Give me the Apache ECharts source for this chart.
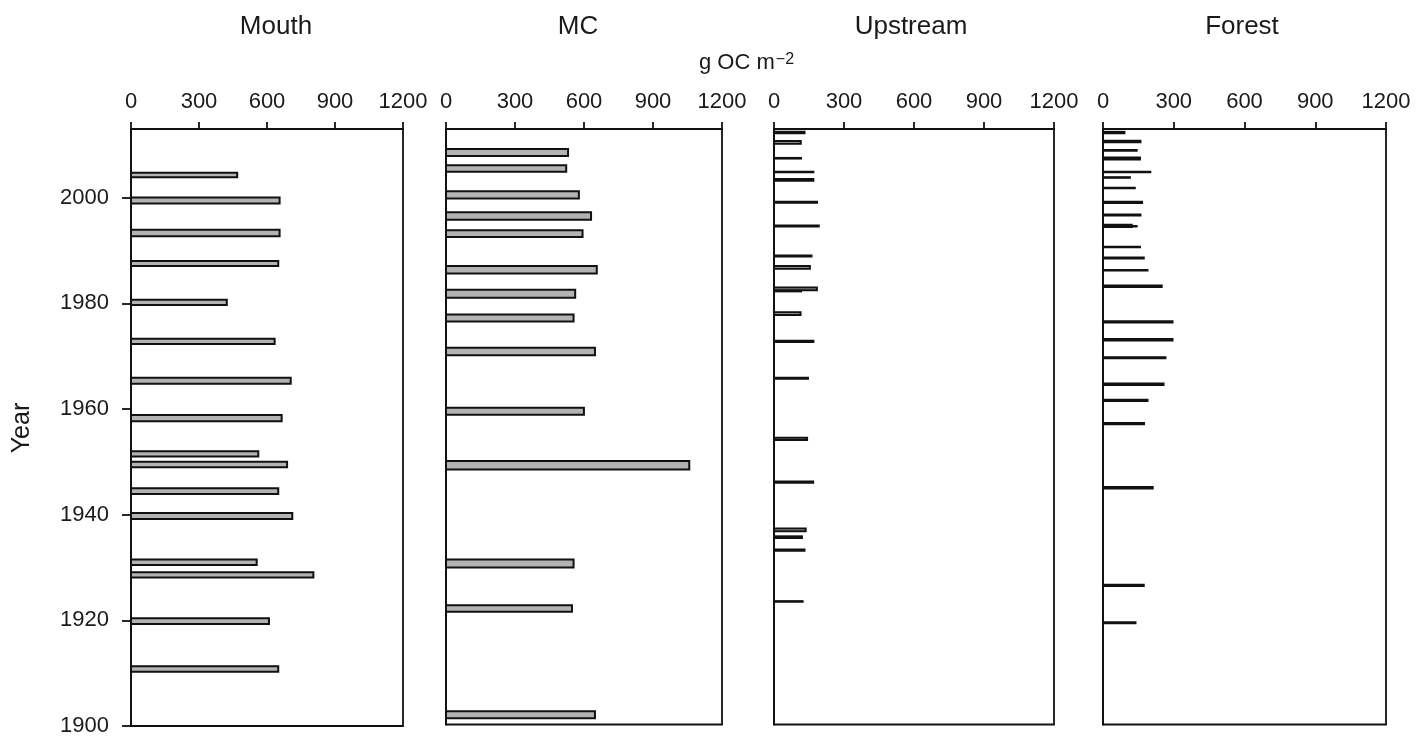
<!DOCTYPE html>
<html>
<head>
<meta charset="utf-8">
<script src="https://cdn.jsdelivr.net/npm/echarts@6/dist/echarts.min.js"></script>
<style>
  html, body { margin: 0; padding: 0; background: #fff; }
  #chart { width: 1426px; height: 737px; }
</style>
</head>
<body>
<div id="chart"></div>
<script>
// Site names, axis ticks and per-interval organic carbon stocks (g OC m^-2).
const panelNames = ['Mouth', 'MC', 'Upstream', 'Forest'];
const ocTicks = [0, 300, 600, 900, 1200];
const yearTicks = [1900, 1920, 1940, 1960, 1980, 2000];

// Each sediment interval: year at its top, year at its base, and its stock.
const mouthTop  = [2004.9, 2000.2, 1994.1, 1988.2, 1980.85, 1973.5, 1966.1, 1959.05, 1952.2, 1950.2, 1945.2, 1940.5, 1931.7, 1929.3, 1920.6, 1911.5];
const mouthBase = [2003.7, 1998.7, 1992.5, 1986.9, 1979.5, 1972.1, 1964.6, 1957.5, 1950.8, 1948.8, 1943.7, 1939.0, 1930.3, 1927.9, 1919.1, 1910.1];
const mouthOC   = [473, 660, 660, 654, 427, 638, 709, 669, 566, 693, 654, 716, 559, 809, 613, 654];

const mcTop  = [2009.4, 2006.3, 2001.4, 1997.4, 1994.0, 1987.2, 1982.7, 1978.0, 1971.7, 1960.3, 1950.2, 1931.5, 1922.8, 1902.7];
const mcBase = [2007.7, 2004.7, 1999.6, 1995.6, 1992.3, 1985.4, 1980.8, 1976.3, 1969.9, 1958.6, 1948.2, 1929.6, 1921.2, 1901.0];
const mcOC   = [535, 527, 582, 635, 598, 660, 566, 559, 652, 604, 1062, 559, 552, 652];

const upTop  = [2012.65, 2010.9, 2007.7, 2005.1, 2003.7, 1999.4, 1994.9, 1989.2, 1987.2, 1983.1, 1982.5, 1978.4, 1973.0, 1966.0, 1954.6, 1946.3, 1937.4, 1935.9, 1933.4, 1923.6];
const upBase = [2012.0, 2010.0, 2007.2, 2004.6, 2003.0, 1998.8, 1994.3, 1988.6, 1986.3, 1982.2, 1982.0, 1977.5, 1972.4, 1965.4, 1953.8, 1945.7, 1936.5, 1935.2, 1932.8, 1923.1];
const upOC   = [135, 119, 120, 173, 173, 189, 196, 165, 158, 188, 120, 118, 173, 150, 146, 172, 140, 124, 135, 127];

const forestTop  = [2012.65, 2010.95, 2009.2, 2007.8, 2005.1, 2004.05, 2002.05, 1999.4, 1996.95, 1995.0, 1994.8, 1990.85, 1988.8, 1986.45, 1983.5, 1976.7, 1973.35, 1969.9, 1964.9, 1961.8, 1957.4, 1945.25, 1926.7, 1919.6];
const forestBase = [2012.0, 2010.3, 2008.7, 2007.0, 2004.6, 2003.55, 2001.55, 1998.75, 1996.4, 1994.2, 1994.3, 1990.35, 1988.25, 1985.95, 1982.85, 1976.1, 1972.7, 1969.3, 1964.25, 1961.2, 1956.8, 1944.6, 1926.1, 1919.0];
const forestOC   = [95, 163, 147, 161, 205, 118, 139, 170, 163, 126, 147, 161, 177, 193, 253, 299, 299, 269, 261, 193, 178, 215, 177, 142];

const panelData = [
  [mouthTop, mouthBase, mouthOC],
  [mcTop, mcBase, mcOC],
  [upTop, upBase, upOC],
  [forestTop, forestBase, forestOC]
];

const FONT = '"Liberation Sans", Arial, Helvetica, sans-serif';
const INK = '#111111';
const TEXT = '#1a1a1a';
const BAR_FILL = '#b3b3b3';
const BAR_LW = 2;
const AXIS_LW = 1.8;

const grids = [
  { left: 131, top: 129, width: 272, height: 597 },
  { left: 446, top: 129, width: 276, height: 595.5 },
  { left: 774, top: 129, width: 280, height: 595.5 },
  { left: 1103, top: 129, width: 283, height: 595.5 }
];
const titleX = [276, 578, 911, 1242];

const plain = v => String(v);

// Floating horizontal bar spanning one dated interval, drawn through the axes.
function renderInterval(params, api) {
  const topYear = api.value(0);
  const baseYear = api.value(1);
  const oc = api.value(2);
  const p0 = api.coord([0, topYear]);
  const p1 = api.coord([oc, baseYear]);
  const h = Math.max(p1[1] - p0[1] - BAR_LW, 0.4);
  return {
    type: 'rect',
    shape: { x: p0[0], y: p0[1] + BAR_LW / 2, width: p1[0] - p0[0] - BAR_LW / 2, height: h },
    style: { fill: BAR_FILL, stroke: INK, lineWidth: BAR_LW }
  };
}

const option = {
  backgroundColor: '#fff',
  animation: false,
  grid: grids.map(g => Object.assign({
    show: true, borderColor: INK, borderWidth: AXIS_LW, backgroundColor: 'transparent', containLabel: false
  }, g)),
  xAxis: grids.map((g, i) => ({
    type: 'value', gridIndex: i, position: 'top',
    min: ocTicks[0], max: ocTicks[ocTicks.length - 1], interval: ocTicks[1] - ocTicks[0],
    axisLine: { show: true, lineStyle: { color: INK, width: AXIS_LW } },
    axisTick: { show: true, inside: false, length: 7, lineStyle: { color: INK, width: AXIS_LW } },
    axisLabel: { show: true, fontSize: 22, color: TEXT, fontFamily: FONT, margin: 16, showMinLabel: true, showMaxLabel: true, formatter: plain },
    splitLine: { show: false }
  })),
  yAxis: grids.map((g, i) => ({
    type: 'value', gridIndex: i,
    min: 1900, max: 2013,
    axisLine: { show: true, lineStyle: { color: INK, width: AXIS_LW } },
    axisTick: i === 0
      ? { show: true, length: 9, customValues: yearTicks, lineStyle: { color: INK, width: AXIS_LW } }
      : { show: false },
    axisLabel: i === 0
      ? { show: true, customValues: yearTicks, fontSize: 22, color: TEXT, fontFamily: FONT, margin: 22, formatter: plain }
      : { show: false },
    splitLine: { show: false }
  })),
  series: panelData.map((cols, i) => ({
    type: 'custom',
    name: panelNames[i],
    xAxisIndex: i, yAxisIndex: i,
    renderItem: renderInterval,
    dimensions: ['top', 'base', 'oc'],
    encode: { x: 2, y: [0, 1] },
    data: cols[0].map((t, k) => [t, cols[1][k], cols[2][k]]),
    clip: false
  })),
  graphic: [
    ...panelNames.map((name, i) => ({
      type: 'text', x: titleX[i], y: 27,
      style: { text: name, fontSize: 26, fontFamily: FONT, fill: TEXT, align: 'center', verticalAlign: 'middle' }
    })),
    {
      type: 'text', x: 699, y: 63,
      style: {
        text: '{u|g OC m}{s|\u22122}',
        align: 'left', verticalAlign: 'middle',
        rich: {
          u: { fontSize: 22, fontFamily: FONT, fill: TEXT, verticalAlign: 'bottom' },
          s: { fontSize: 16, fontFamily: FONT, fill: TEXT, verticalAlign: 'top', padding: [0, 0, 0, 1] }
        }
      }
    },
    {
      type: 'text', x: 22, y: 428, rotation: Math.PI / 2,
      style: { text: 'Year', fontSize: 25, fontFamily: FONT, fill: TEXT, align: 'center', verticalAlign: 'middle' }
    }
  ]
};

const chart = echarts.init(document.getElementById('chart'), null, { renderer: 'canvas' });
chart.setOption(option);
</script>
</body>
</html>
